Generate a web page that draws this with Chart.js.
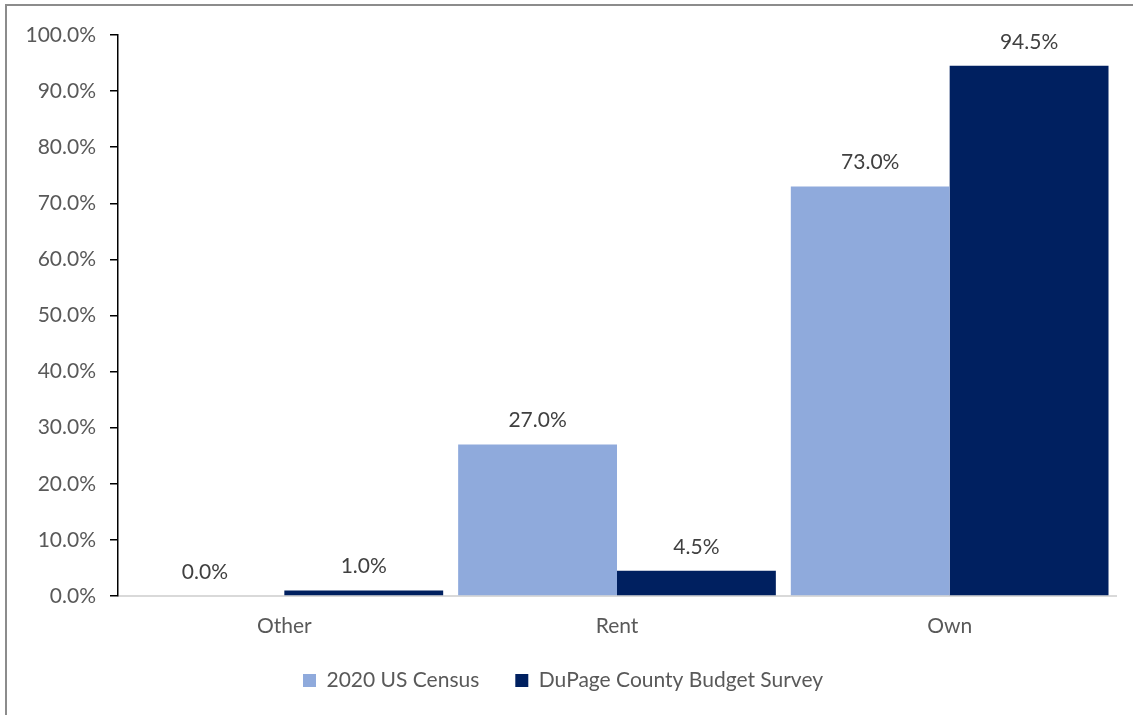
<!DOCTYPE html>
<html>
<head>
<meta charset="utf-8">
<script src="https://cdn.jsdelivr.net/npm/chart.js@4/dist/chart.umd.min.js"></script>
<style>
  html, body { margin: 0; padding: 0; background: #ffffff; }
  #wrap { position: absolute; left: 0; top: 0; width: 1137px; height: 715px; }
</style>
</head>
<body>
<div id="wrap"><canvas id="c" width="1137" height="715"></canvas></div>
<script>
const categories = ['Other', 'Rent', 'Own'];
const censusValues = [0.0, 27.0, 73.0];
const surveyValues = [1.0, 4.5, 94.5];
const seriesNames = ['2020 US Census', 'DuPage County Budget Survey'];

const FONT = 'Lato, "Open Sans", sans-serif';

const framePlugin = {
  id: 'frame',
  beforeDraw(chart) {
    const ctx = chart.ctx;
    ctx.save();
    ctx.fillStyle = '#ffffff';
    ctx.fillRect(0, 0, chart.width, chart.height);
    ctx.strokeStyle = '#8c8c8c';
    ctx.lineWidth = 2;
    ctx.beginPath();
    ctx.moveTo(6, 715);
    ctx.lineTo(6, 5);
    ctx.lineTo(1133, 5);
    ctx.stroke();
    ctx.restore();
  }
};

const labelPlugin = {
  id: 'valueLabels',
  afterDatasetsDraw(chart) {
    const ctx = chart.ctx;
    ctx.save();
    ctx.font = '21px ' + FONT;
    ctx.fillStyle = '#404040';
    ctx.textAlign = 'center';
    ctx.textBaseline = 'middle';
    chart.data.datasets.forEach((ds, i) => {
      const meta = chart.getDatasetMeta(i);
      meta.data.forEach((el, j) => {
        ctx.fillText(ds.data[j].toFixed(1) + '%', el.x, el.y - 24);
      });
    });
    ctx.restore();
  }
};

new Chart(document.getElementById('c'), {
  type: 'bar',
  data: {
    labels: categories,
    datasets: [
      { label: seriesNames[0], data: censusValues, backgroundColor: '#8faadc', borderWidth: 0 },
      { label: seriesNames[1], data: surveyValues, backgroundColor: '#002060', borderWidth: 0 }
    ]
  },
  options: {
    responsive: false,
    animation: false,
    devicePixelRatio: 1,
    layout: { padding: { top: 35, left: 10, right: 21, bottom: 14 } },
    datasets: { bar: { categoryPercentage: 0.955, barPercentage: 1.0 } },
    plugins: {
      legend: {
        position: 'bottom',
        labels: {
          boxWidth: 13, boxHeight: 13, padding: 36,
          color: '#595959',
          font: { size: 21, family: FONT }
        }
      },
      tooltip: { enabled: false }
    },
    scales: {
      x: {
        grid: { display: false, drawTicks: false },
        border: { display: true, color: '#d9d9d9', width: 2 },
        ticks: { color: '#595959', font: { size: 21, family: FONT }, padding: 18 },
        afterFit(scale) { scale.height = 38; }
      },
      y: {
        min: 0, max: 100,
        grid: { drawOnChartArea: false, drawTicks: true, tickLength: 8, color: '#000000', lineWidth: 1.5 },
        border: { display: true, color: '#000000', width: 1.5 },
        ticks: {
          stepSize: 10,
          color: '#595959',
          padding: 14,
          font: { size: 21, family: FONT },
          callback: v => v.toFixed(1) + '%'
        },
        afterFit(scale) { scale.width = 108; }
      }
    }
  },
  plugins: [framePlugin, labelPlugin]
});
</script>
</body>
</html>
